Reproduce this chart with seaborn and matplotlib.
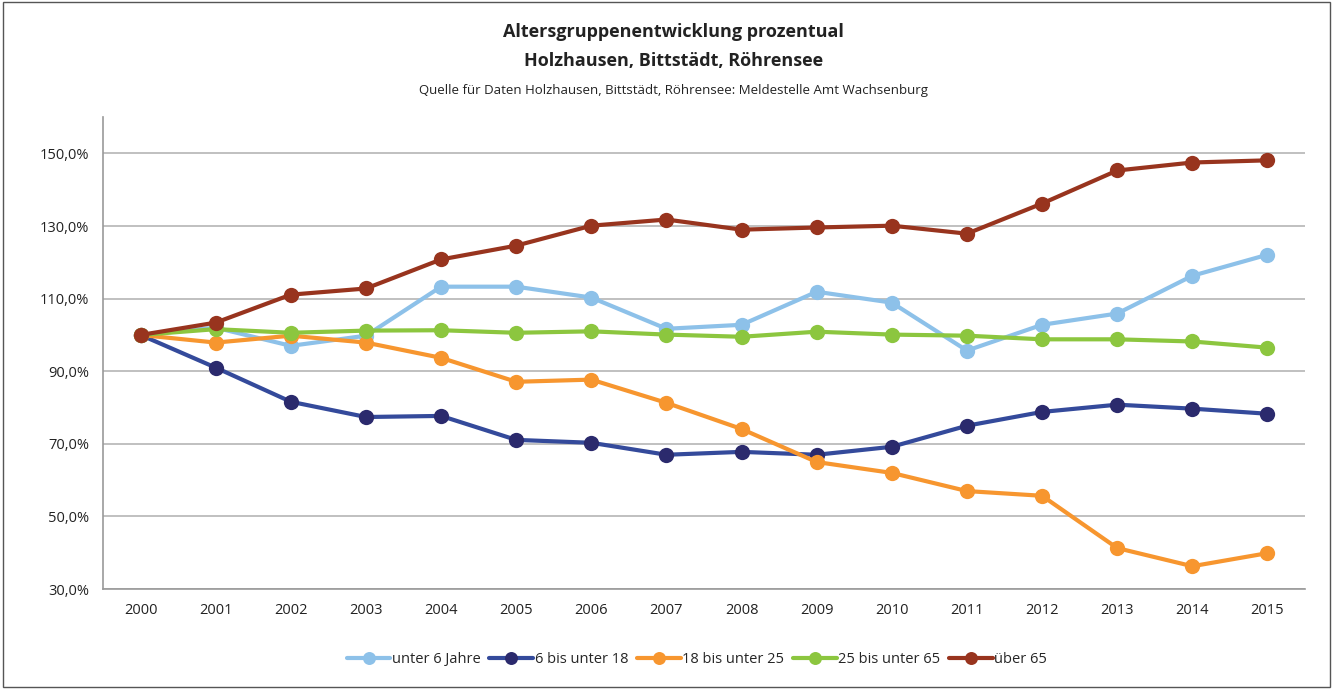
import pandas as pd
import numpy as np
import matplotlib.pyplot as plt
import seaborn as sns
from matplotlib.patches import Rectangle
from matplotlib.ticker import FixedLocator, FuncFormatter

years = [str(y) for y in range(2000, 2016)]

unter_6 = [100, 102.0, 97.0, 99.8, 113.3, 113.3, 110.3, 101.7, 102.8, 111.9, 108.9, 95.7, 102.8, 105.9, 116.3, 122.1]
bis_18 = [100, 91.0, 81.6, 77.4, 77.7, 71.1, 70.3, 67.0, 67.8, 67.0, 69.2, 75.0, 78.8, 80.8, 79.7, 78.3]
bis_25 = [100, 97.9, 99.8, 97.9, 93.7, 87.1, 87.7, 81.3, 74.1, 65.0, 62.0, 57.0, 55.7, 41.3, 36.3, 39.9]
bis_65 = [100, 101.6, 100.6, 101.2, 101.3, 100.6, 101.0, 100.1, 99.5, 100.9, 100.1, 99.8, 98.8, 98.8, 98.2, 96.5]
ueber_65 = [100, 103.4, 111.1, 112.8, 120.8, 124.6, 130.1, 131.8, 129.0, 129.6, 130.1, 127.9, 136.2, 145.3, 147.5, 148.1]

names = ["unter 6 Jahre", "6 bis unter 18", "18 bis unter 25", "25 bis unter 65", "über 65"]
series = [unter_6, bis_18, bis_25, bis_65, ueber_65]
line_colors = ["#8DC1E9", "#344A9B", "#F7962F", "#8CC63F", "#98341E"]
marker_colors = ["#8DC1E9", "#2B2A6D", "#F7962F", "#8CC63F", "#98341E"]

df = pd.DataFrame({
    "idx": np.tile(np.arange(len(years)), len(names)),
    "wert": np.concatenate(series),
    "gruppe": np.repeat(names, len(years)),
})

sns.set_style("white")
plt.rcParams['font.family'] = ['Open Sans', 'DejaVu Sans']

fig = plt.figure(figsize=(13.33, 6.89), dpi=100)
ax = fig.add_axes([0.0773, 0.145, 0.9017, 0.685])

for name, lc, mc in zip(names, line_colors, marker_colors):
    sns.lineplot(data=df[df.gruppe == name], x="idx", y="wert", ax=ax,
                 color=lc, linewidth=3, marker="o", markersize=11,
                 markeredgewidth=0, markerfacecolor=mc, label=name)

ax.set_xlim(-0.5, len(years) - 0.5)
ax.set_ylim(30, 160)
ax.set_xticks(range(len(years)))
ax.set_xticklabels(years)
ax.xaxis.set_minor_locator(FixedLocator(np.arange(-0.5, len(years), 1)))
ax.tick_params(axis="x", which="major", length=0, pad=10, labelsize=10.5, colors="#222222")
ax.tick_params(axis="x", which="minor", length=6, width=1, color="#999999")
ax.set_yticks(range(30, 151, 20))
ax.yaxis.set_major_formatter(FuncFormatter(lambda v, p: f"{v:.1f}%".replace(".", ",")))
ax.tick_params(axis="y", length=6, width=1, color="#999999", labelsize=10.5, labelcolor="#222222", pad=4)
ax.grid(axis="y", color="#B5B5B5", linewidth=1.2)
ax.set_axisbelow(True)
ax.set_xlabel("")
ax.set_ylabel("")
for s in ["top", "right"]:
    ax.spines[s].set_visible(False)
ax.spines["left"].set_color("#999999")
ax.spines["bottom"].set_color("#999999")
ax.spines["left"].set_linewidth(1.2)
ax.spines["bottom"].set_linewidth(1.2)

leg = ax.legend(loc="upper center", bbox_to_anchor=(0.494, -0.105), ncol=5, frameon=False,
                fontsize=10.5, handlelength=3, handletextpad=0.1, columnspacing=0.6,
                markerscale=0.85)

fig.text(0.505, 0.953, "Altersgruppenentwicklung prozentual", ha="center", va="center",
         fontsize=13, fontweight="bold", color="#222222")
fig.text(0.505, 0.912, "Holzhausen, Bittstädt, Röhrensee", ha="center", va="center",
         fontsize=13, fontweight="bold", color="#222222")
fig.text(0.505, 0.869, "Quelle für Daten Holzhausen, Bittstädt, Röhrensee: Meldestelle Amt Wachsenburg",
         ha="center", va="center", fontsize=9.5, color="#222222")

fig.patches.append(Rectangle((0.002, 0.003), 0.996, 0.994, transform=fig.transFigure,
                             fill=False, edgecolor="#555555", linewidth=1))

fig.savefig("out.png", dpi=100)
